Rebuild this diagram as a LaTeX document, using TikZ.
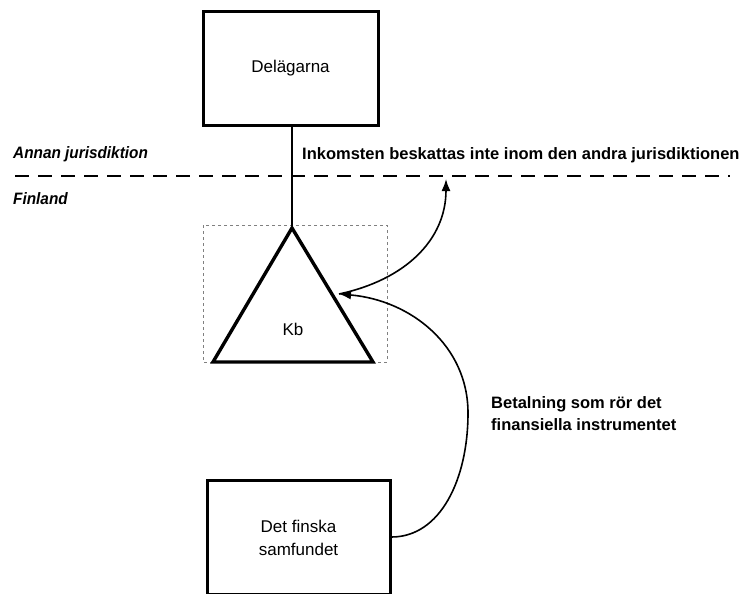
\documentclass[tikz,border=0pt]{standalone}
\usepackage{fontspec}
\setmainfont{Liberation Sans}
\newfontfamily\notebold{Liberation Sans Bold}
\newfontfamily\zonefont[FakeStretch=0.93]{Liberation Sans Bold Italic}
\usetikzlibrary{arrows.meta}
\begin{document}
\begin{tikzpicture}[x=1pt,y=-1pt,
  entity/.style={draw,line width=3pt,minimum width=175pt,font=\fontsize{17}{23}\selectfont,align=center,inner sep=0pt},
  label/.style={font=\notebold\fontsize{16.5}{22}\selectfont,align=left,inner sep=0pt},
  zone/.style={font=\zonefont\fontsize{16.5}{20}\selectfont,inner sep=0pt,anchor=west},
  flow/.style={line width=1.6pt,-{Latex[length=12pt,width=9pt]}}]
\useasboundingbox (0,0) rectangle (742,594);
% border line between the jurisdictions
\draw[line width=1.8pt,dash pattern=on 14pt off 9pt] (15,176) -- (730,176);
\node[zone] (annan) at (13,154) {Annan jurisdiktion};
\node[zone] (fin) at (13,199) {Finland};
% owners
\node[entity,minimum height=113pt] (owners) at (290.5,68.5) {Delägarna};
% the limited partnership
\draw[gray,dashed,line width=0.8pt] (203,225) rectangle (387,362);
\coordinate (apex) at (292,228);
\coordinate (bl) at (213,362);
\coordinate (br) at (373,362);
\draw[line width=3.4pt,line join=miter] (apex) -- (br) -- (bl) -- cycle;
\node[font=\fontsize{17}{20}\selectfont] (kb) at (293,329) {Kb};
\draw[line width=1.2pt] (owners.south -| apex) -- (apex);
% Finnish company
\node[entity,minimum width=183pt,minimum height=114pt,anchor=north] (company) at (298.5,479) {Det finska\\samfundet};
% payment and taxation arrows
\coordinate (side) at (339,294);
\coordinate (border) at (446,179);
\draw[flow] (company.east |- 0,537) .. controls (440,537) and (468,480) .. (468,413)
  .. controls (468,345) and (410,300) .. (side);
\draw[flow] (side) .. controls (405,280) and (446,240) .. (border);
\node[label,anchor=west] (taxnote) at (302,155) {Inkomsten beskattas inte inom den andra jurisdiktionen};
\node[label,anchor=west] (paynote) at (491,414) {Betalning som rör det\\finansiella instrumentet};
\end{tikzpicture}
\end{document}
